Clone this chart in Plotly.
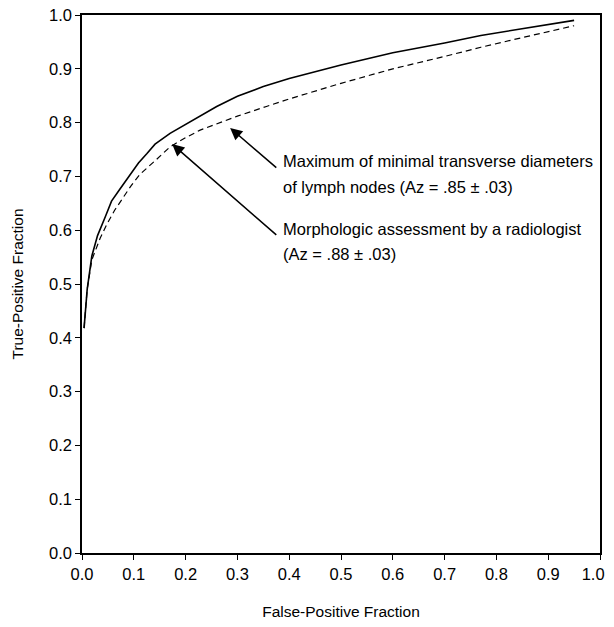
import plotly.graph_objects as go

# Radiologist (solid), Az = .88
rad_x = [0.004, 0.01, 0.019, 0.03, 0.045, 0.057, 0.073, 0.09, 0.109, 0.125, 0.141, 0.17, 0.2, 0.228, 0.26, 0.3, 0.35, 0.4, 0.5, 0.6, 0.7, 0.77, 0.85, 0.95]
rad_y = [0.418, 0.49, 0.552, 0.59, 0.625, 0.654, 0.676, 0.70, 0.725, 0.742, 0.760, 0.78, 0.797, 0.812, 0.83, 0.849, 0.867, 0.882, 0.907, 0.930, 0.948, 0.962, 0.975, 0.99]

# Maximum of minimal transverse diameters (dashed), Az = .85
dia_x = [0.004, 0.01, 0.019, 0.025, 0.035, 0.048, 0.063, 0.079, 0.095, 0.112, 0.125, 0.141, 0.17, 0.2, 0.228, 0.26, 0.3, 0.356, 0.4, 0.5, 0.6, 0.7, 0.77, 0.85, 0.95]
dia_y = [0.418, 0.49, 0.545, 0.561, 0.585, 0.611, 0.637, 0.66, 0.683, 0.704, 0.715, 0.729, 0.755, 0.772, 0.786, 0.798, 0.812, 0.830, 0.844, 0.873, 0.900, 0.923, 0.940, 0.958, 0.98]

ticks = [0.0, 0.1, 0.2, 0.3, 0.4, 0.5, 0.6, 0.7, 0.8, 0.9, 1.0]
tick_labels = ["0.0", "0.1", "0.2", "0.3", "0.4", "0.5", "0.6", "0.7", "0.8", "0.9", "1.0"]
# last x label padded with non-breaking spaces so it stays inside the page edge
x_tick_labels = tick_labels[:-1] + [tick_labels[-1] + "\u00a0\u00a0\u00a0"]

font = "Liberation Sans, Arial, sans-serif"

fig = go.Figure()
fig.add_trace(go.Scatter(x=rad_x, y=rad_y, mode="lines", line=dict(color="black", width=1.6), showlegend=False))
fig.add_trace(go.Scatter(x=dia_x, y=dia_y, mode="lines", line=dict(color="black", width=1.2, dash="6px,4px"), showlegend=False))

axis_common = dict(range=[0, 1], tickvals=ticks, showgrid=False, zeroline=False,
                   showline=True, linecolor="black", linewidth=1.5, mirror=True, ticks="outside",
                   ticklen=5, tickwidth=1.2, tickcolor="black", automargin=False,
                   ticklabeloverflow="allow",
                   tickfont=dict(family=font, size=16.5, color="black"))

fig.update_xaxes(**axis_common, ticktext=x_tick_labels,
                 title=dict(text="False-Positive Fraction", font=dict(family=font, size=15.5, color="black"), standoff=28))
fig.update_yaxes(**axis_common, ticktext=tick_labels,
                 title=dict(text="True-Positive Fraction", font=dict(family=font, size=15.5, color="black"), standoff=22))

# arrows
fig.add_annotation(x=0.286, y=0.790, ax=0.378, ay=0.714, xref="x", yref="y", axref="x", ayref="y",
                   text="", showarrow=True, arrowhead=2, arrowsize=1.6, arrowwidth=1.5, arrowcolor="black")
fig.add_annotation(x=0.174, y=0.760, ax=0.378, ay=0.589, xref="x", yref="y", axref="x", ayref="y",
                   text="", showarrow=True, arrowhead=2, arrowsize=1.6, arrowwidth=1.5, arrowcolor="black")

labels = [
    ("Maximum of minimal transverse diameters", 0.729),
    ("of lymph nodes (Az = .85 ± .03)", 0.680),
    ("Morphologic assessment by a radiologist", 0.603),
    ("(Az = .88 ± .03)", 0.555),
]
for txt, yy in labels:
    fig.add_annotation(x=0.385, y=yy, xref="x", yref="y", text=txt, showarrow=False,
                       xanchor="left", yanchor="middle", font=dict(family=font, size=16.5, color="black"))

# page body has an 8px margin, so the figure is sized/offset accordingly
fig.update_layout(width=606, height=612, margin=dict(l=74, r=14, t=7, b=67),
                  plot_bgcolor="white", paper_bgcolor="white")

fig.write_html("out.html")
